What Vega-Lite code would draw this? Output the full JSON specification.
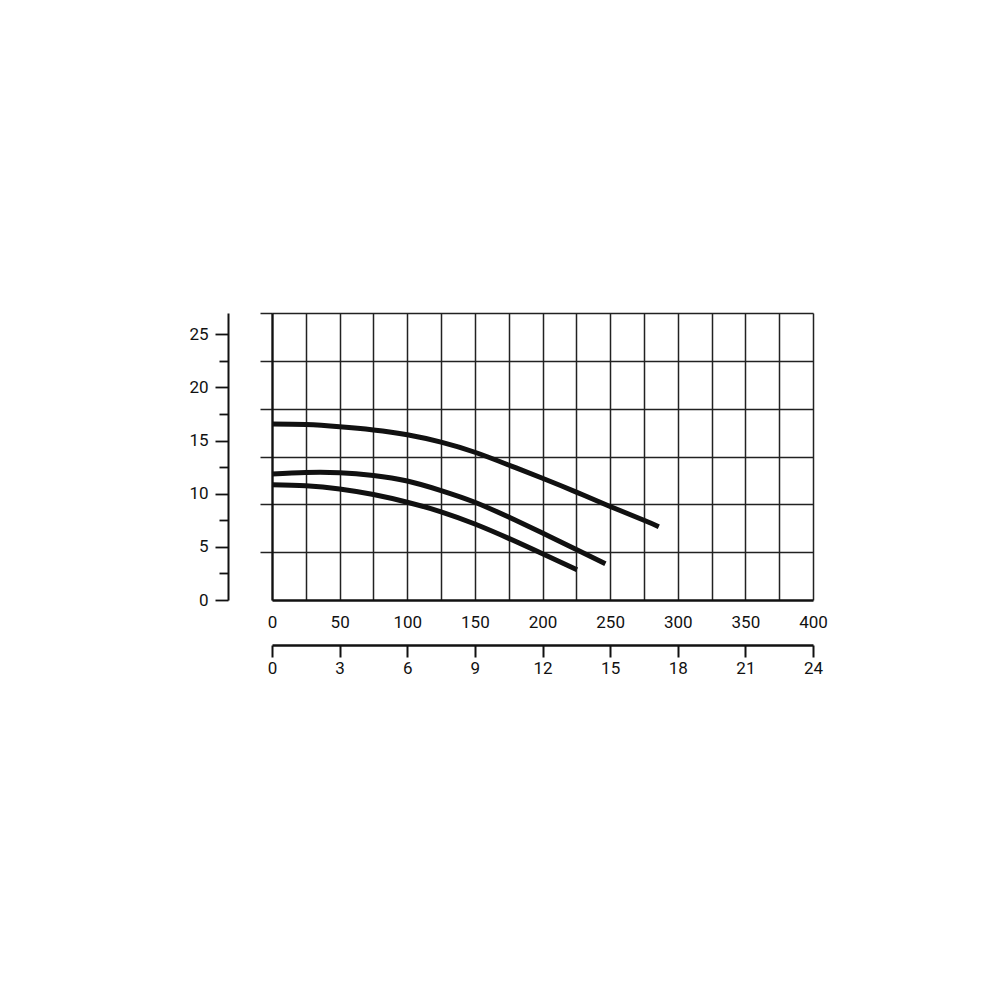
{
  "$schema": "https://vega.github.io/schema/vega-lite/v6.json",
  "width": 541,
  "height": 287,
  "autosize": "none",
  "padding": {"left": 272, "top": 313, "right": 187, "bottom": 400},
  "background": "white",
  "config": {
    "view": {"stroke": null},
    "axis": {
      "labelFont": "Roboto",
      "labelFontSize": 17,
      "labelFontWeight": "normal",
      "labelColor": "#111",
      "domainColor": "#111",
      "tickColor": "#111",
      "gridColor": "#222",
      "gridWidth": 1.5,
      "gridOpacity": 1,
      "title": null,
      "labelFlush": false,
      "labelOverlap": false
    }
  },
  "datasets": {
    "curves": [
      {"curve": "a", "q": 0, "h": 16.55},
      {"curve": "a", "q": 25, "h": 16.5},
      {"curve": "a", "q": 50, "h": 16.3},
      {"curve": "a", "q": 75, "h": 16.0},
      {"curve": "a", "q": 100, "h": 15.55},
      {"curve": "a", "q": 125, "h": 14.85},
      {"curve": "a", "q": 150, "h": 13.9},
      {"curve": "a", "q": 175, "h": 12.7},
      {"curve": "a", "q": 200, "h": 11.45},
      {"curve": "a", "q": 225, "h": 10.15},
      {"curve": "a", "q": 250, "h": 8.8},
      {"curve": "a", "q": 275, "h": 7.5},
      {"curve": "a", "q": 286, "h": 6.9},
      {"curve": "b", "q": 0, "h": 11.85},
      {"curve": "b", "q": 25, "h": 12.0},
      {"curve": "b", "q": 50, "h": 11.98},
      {"curve": "b", "q": 75, "h": 11.72},
      {"curve": "b", "q": 100, "h": 11.2},
      {"curve": "b", "q": 125, "h": 10.3},
      {"curve": "b", "q": 150, "h": 9.2},
      {"curve": "b", "q": 175, "h": 7.8},
      {"curve": "b", "q": 200, "h": 6.3},
      {"curve": "b", "q": 225, "h": 4.75},
      {"curve": "b", "q": 246.5, "h": 3.4},
      {"curve": "c", "q": 0, "h": 10.85},
      {"curve": "c", "q": 25, "h": 10.75},
      {"curve": "c", "q": 50, "h": 10.45},
      {"curve": "c", "q": 75, "h": 9.92},
      {"curve": "c", "q": 100, "h": 9.2},
      {"curve": "c", "q": 125, "h": 8.3},
      {"curve": "c", "q": 150, "h": 7.15},
      {"curve": "c", "q": 175, "h": 5.8},
      {"curve": "c", "q": 200, "h": 4.35},
      {"curve": "c", "q": 225.5, "h": 2.85}
    ]
  },
  "resolve": {"axis": {"x": "independent", "y": "independent"}},
  "layer": [
    {
      "data": {"name": "curves"},
      "mark": {"type": "line", "interpolate": "natural", "strokeWidth": 5, "color": "#111", "strokeCap": "butt"},
      "encoding": {
        "detail": {"field": "curve"},
        "x": {
          "field": "q", "type": "quantitative",
          "scale": {"domain": [0, 400], "nice": false, "zero": false},
          "axis": {
            "orient": "bottom",
            "values": [0, 25, 50, 75, 100, 125, 150, 175, 200, 225, 250, 275, 300, 325, 350, 375, 400],
            "grid": true,
            "ticks": false,
            "tickSize": 0,
            "domainWidth": 2.5,
            "labelPadding": 14,
            "labelExpr": "datum.value % 50 === 0 ? datum.label : ''"
          }
        },
        "y": {
          "field": "h", "type": "quantitative",
          "scale": {"domain": [0, 27], "nice": false, "zero": false},
          "axis": {
            "orient": "left",
            "values": [4.5, 9, 13.5, 18, 22.5, 27],
            "grid": true,
            "labels": false,
            "tickSize": 12,
            "tickWidth": 1.5,
            "tickColor": "#222",
            "domainWidth": 2.2
          }
        }
      }
    },
    {
      "data": {"name": "curves"},
      "mark": {"type": "line", "opacity": 0},
      "encoding": {
        "detail": {"field": "curve"},
        "x": {
          "field": "q", "type": "quantitative",
          "scale": {"domain": [0, 400], "nice": false, "zero": false},
          "axis": {
            "orient": "bottom",
            "offset": 45,
            "values": [0, 50, 100, 150, 200, 250, 300, 350, 400],
            "grid": false,
            "tickSize": 12,
            "tickWidth": 2,
            "domainWidth": 2.5,
            "labelPadding": 3,
            "labelExpr": "format(datum.value * 0.06, 'd')"
          }
        },
        "y": {
          "field": "h", "type": "quantitative",
          "scale": {"domain": [0, 27], "nice": false, "zero": false},
          "axis": {
            "orient": "left",
            "offset": 44,
            "values": [0, 5, 10, 15, 20, 25],
            "grid": false,
            "tickSize": 13,
            "tickWidth": 1.8,
            "domainWidth": 2,
            "labelPadding": 7
          }
        }
      }
    },
    {
      "data": {"name": "curves"},
      "mark": {"type": "line", "opacity": 0},
      "encoding": {
        "detail": {"field": "curve"},
        "x": {
          "field": "q", "type": "quantitative",
          "scale": {"domain": [0, 400], "nice": false, "zero": false},
          "axis": null
        },
        "y": {
          "field": "h", "type": "quantitative",
          "scale": {"domain": [0, 27], "nice": false, "zero": false},
          "axis": {
            "orient": "left",
            "offset": 44,
            "values": [2.5, 7.5, 12.5, 17.5, 22.5],
            "grid": false,
            "labels": false,
            "domain": false,
            "tickSize": 9,
            "tickWidth": 1.8
          }
        }
      }
    }
  ]
}
